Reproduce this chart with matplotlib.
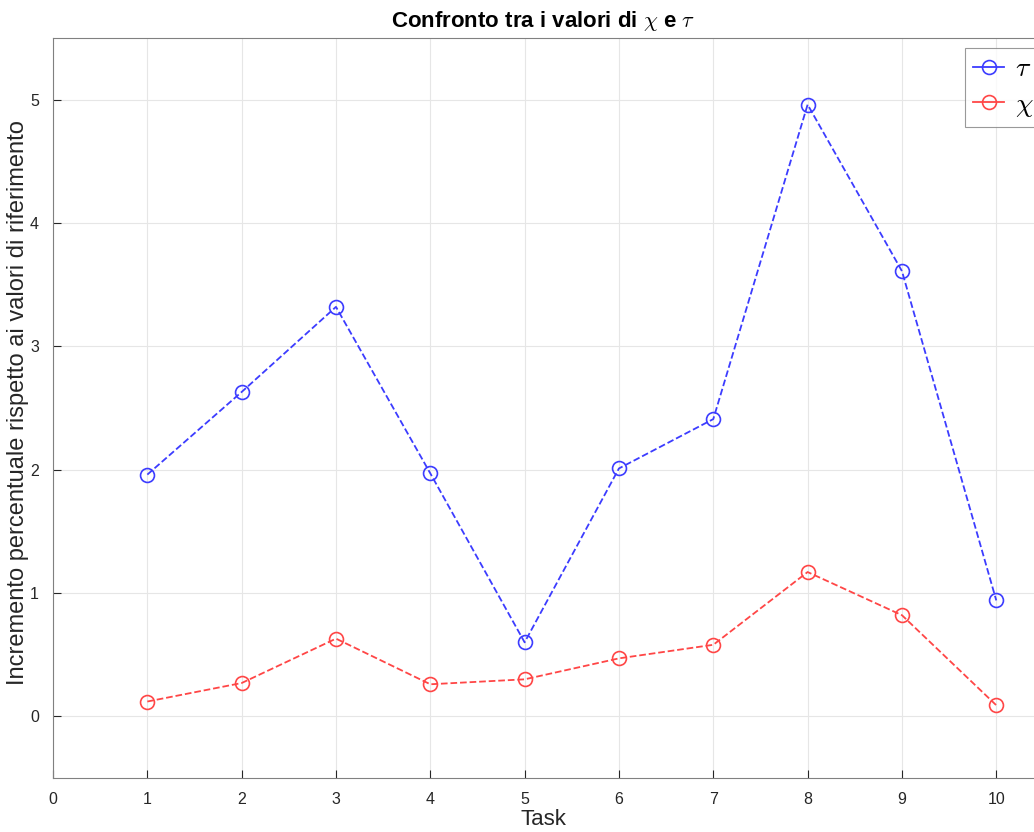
import matplotlib.pyplot as plt
import numpy as np

plt.rcParams['font.family'] = ['Liberation Sans', 'DejaVu Sans']
plt.rcParams['mathtext.fontset'] = 'cm'

tasks = [1, 2, 3, 4, 5, 6, 7, 8, 9, 10]
tau = [1.96, 2.63, 3.32, 1.97, 0.60, 2.01, 2.41, 4.96, 3.61, 0.94]
chi = [0.12, 0.27, 0.63, 0.26, 0.30, 0.47, 0.58, 1.17, 0.82, 0.09]

fig = plt.figure(figsize=(10.34, 8.32), dpi=100)
ax = fig.add_axes([53 / 1034, 1 - 778 / 832, 1 - 53 / 1034, 740 / 832])

ax.plot(tasks, tau, '--o', color='#3c3cff', mfc='none', ms=10, lw=1.3, mew=1.2, label=r'$\tau$')
ax.plot(tasks, chi, '--o', color='#ff4646', mfc='none', ms=10, lw=1.3, mew=1.2, label=r'$\chi$')

ax.set_xlim(0, 10.4)
ax.set_ylim(-0.5, 5.5)
ax.set_xticks(range(0, 11))
ax.set_yticks(range(0, 6))
ax.grid(True, color='#e6e6e6', lw=0.8)
ax.set_axisbelow(True)
ax.tick_params(direction='in', length=6, colors='#262626', labelsize=11.5, pad=10)
for s in ['left', 'bottom', 'top']:
    ax.spines[s].set_color('#808080')
ax.spines['right'].set_visible(False)

ax.set_xlabel('Task', fontsize=16, color='#262626')
ax.xaxis.set_label_coords(0.5, -0.042)
ax.set_ylabel('Incremento percentuale rispetto ai valori di riferimento', fontsize=17, color='#262626')
ax.yaxis.set_label_coords(-0.024, 0.507)
ax.set_title(r'Confronto tra i valori di $\chi$ e $\tau$', fontsize=16, fontweight='bold', pad=8)

leg = ax.legend(loc='upper left', bbox_to_anchor=(965 / 1034, 1 - 48 / 832), bbox_transform=fig.transFigure,
                fontsize=20, fancybox=False, edgecolor='#808080', handlelength=1.1, handletextpad=0.4,
                borderpad=0.3, borderaxespad=0, labelspacing=0.35)
leg.get_frame().set_linewidth(0.8)
for h in leg.get_lines():
    h.set_linestyle('-')

fig.savefig('out.png', dpi=100)
